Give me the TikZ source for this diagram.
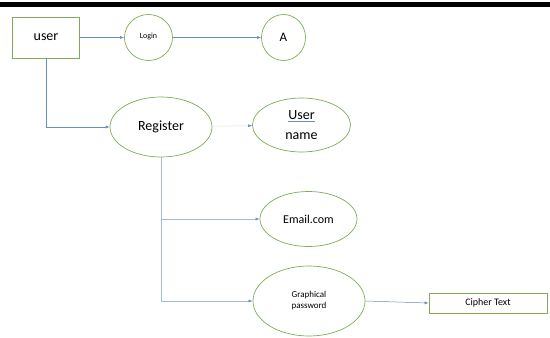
\documentclass[tikz,border=0pt]{standalone}
\usepackage{fontspec}
\setmainfont{Carlito}
\usetikzlibrary{arrows.meta,shapes.geometric}
\definecolor{boxgreen}{RGB}{125,172,85}
\definecolor{linkblue}{RGB}{105,140,195}
\newcommand{\blueul}[1]{{\setbox0\hbox{#1}\rlap{\color{linkblue}\rule[-2.5pt]{\wd0}{0.7pt}}\box0}}
\begin{document}
\begin{tikzpicture}[x=1pt,y=-1pt,
    ent/.style={draw=boxgreen,line width=.7pt,rectangle,inner sep=0pt},
    proc/.style={draw=boxgreen,line width=.7pt,ellipse,inner sep=0pt},
    flow/.style={draw=linkblue,line width=.5pt,-{Latex[length=4pt,width=3pt,color=linkblue]}}]
    \useasboundingbox (0,0) rectangle (550,338);
    \fill (0,1.5) rectangle (550,6.5);
    \node[ent,minimum width=67,minimum height=41,font=\fontsize{14}{16}\selectfont] (user) at (46,37.5) {user};
    \node[proc,minimum width=48,minimum height=46,font=\fontsize{8}{9}\selectfont] (login) at (148.5,37.5) {\raisebox{4pt}{Login}};
    \node[proc,minimum width=44,minimum height=46,font=\fontsize{13}{15}\selectfont] (a) at (283.5,37.5) {A};
    \node[proc,minimum width=102,minimum height=60,font=\fontsize{14}{16}\selectfont] (reg) at (161,127) {Register};
    \node[proc,minimum width=98,minimum height=54,align=center,font=\fontsize{14}{20}\selectfont] (uname) at (301.5,125) {\blueul{User}\\name};
    \node[proc,minimum width=97,minimum height=55,font=\fontsize{12}{14}\selectfont] (email) at (308.5,219) {Email.com};
    \node[proc,minimum width=112,minimum height=70,align=center,font=\fontsize{9}{11}\selectfont] (gpass) at (309,301) {Graphical\\password};
    \node[ent,minimum width=118,minimum height=20,font=\fontsize{10}{12}\selectfont] (cipher) at (488,303) {Cipher Text};
    \draw[flow] (user) -- (login);
    \draw[flow] (login) -- (a);
    \draw[flow] (user.south) |- (reg.west);
    \draw[flow,draw=gray!25] (reg) -- (uname);
    \draw[flow,draw=linkblue!60] (reg.south) |- (email.west);
    \draw[flow,draw=linkblue!60] (reg.south) |- (gpass.west);
    \draw[flow] (gpass.east) -- (cipher.west);
\end{tikzpicture}
\end{document}
